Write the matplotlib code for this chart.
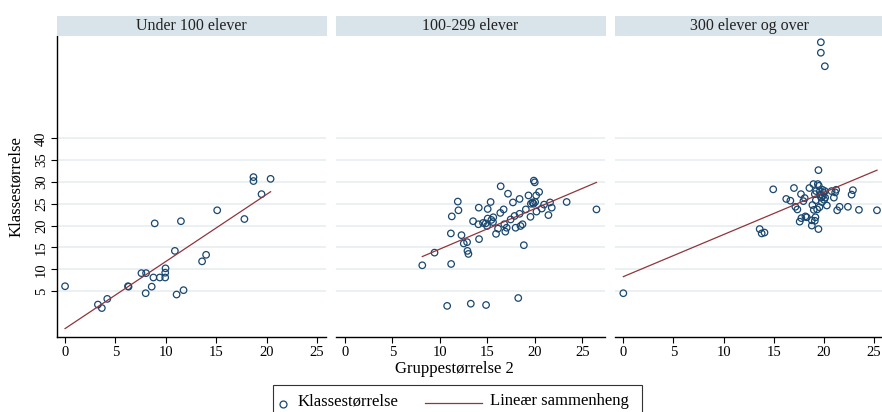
import numpy as np
import matplotlib.pyplot as plt
from matplotlib.lines import Line2D

plt.rcParams['font.family'] = ['Liberation Serif', 'DejaVu Serif']

titles = ["Under 100 elever", "100-299 elever", "300 elever og over"]

# Under 100 elever
x_small = [0.0, 3.26, 3.65, 4.19, 6.25, 6.3, 7.58, 8.04, 8.0, 8.6, 8.77, 8.9, 9.4,
           9.94, 9.94, 9.97, 10.9, 11.07, 11.5, 11.76, 13.6, 14.0, 15.1, 17.8,
           18.7, 18.7, 19.5, 20.4]
y_small = [6.1, 1.9, 1.1, 3.2, 6.1, 6.0, 9.1, 9.1, 4.5, 6.0, 8.1, 20.5, 8.1,
           8.1, 9.2, 10.2, 14.2, 4.2, 21.0, 5.2, 11.8, 13.3, 23.5, 21.5,
           31.1, 30.2, 27.2, 30.7]

# 100-299 elever
x_mid = [8.15, 9.44, 10.77, 11.19, 11.16, 11.26, 11.96, 11.89, 12.28, 12.52, 12.87,
         12.91, 13.01, 13.26, 13.5, 14.1, 14.06, 14.13, 14.55, 14.87, 14.83, 14.97,
         15.04, 15.04, 15.35, 15.43, 15.63, 15.6, 15.92, 16.13, 16.37, 16.41, 16.72,
         16.79, 16.9, 17.04, 17.18, 17.46, 17.7, 17.87, 17.98, 18.4, 18.4, 18.5,
         18.26, 18.71, 18.85, 19.06, 19.34, 19.55, 19.59, 19.76, 19.9, 20.0, 19.87,
         20.04, 20.15, 20.18, 20.46, 20.74, 20.98, 21.44, 21.61, 21.79, 23.36, 26.5]
y_mid = [10.9, 13.8, 1.6, 11.2, 18.2, 22.1, 23.5, 25.5, 17.8, 15.9, 16.2,
         14.2, 13.5, 2.1, 21.0, 24.1, 20.3, 16.9, 20.6, 1.8, 20.5, 19.9,
         21.6, 23.8, 25.4, 21.3, 21.9, 20.8, 18.1, 19.3, 22.9, 29.0, 23.7,
         20.3, 18.6, 19.5, 27.3, 21.4, 25.3, 22.2, 19.5, 26.1, 22.7, 19.9,
         3.4, 20.3, 15.5, 23.7, 26.9, 22.0, 25.0, 25.3, 30.3, 29.9, 25.0,
         25.4, 26.9, 23.2, 27.7, 23.9, 24.8, 22.4, 25.3, 24.1, 25.4, 23.7]

# 300 elever og over
x_large = [0.0, 19.7, 19.7, 20.1, 13.6, 13.8, 14.08, 14.95, 16.25, 16.66, 17.02,
           17.16, 17.36, 17.72, 17.59, 17.76, 17.96, 18.09, 18.16, 18.29, 18.56,
           18.8, 18.8, 18.86, 18.96, 19.0, 19.1, 19.16, 19.1, 19.2, 19.23, 19.33,
           19.4, 19.46, 19.46, 19.5, 19.56, 19.6, 19.66, 19.73, 19.8, 19.86, 19.9,
           19.96, 20.03, 20.1, 20.13, 20.3, 20.77, 21.0, 21.13, 21.23, 21.33,
           21.57, 22.4, 22.77, 22.9, 23.5, 25.3]
y_large = [4.5, 62.0, 59.6, 56.5, 19.2, 18.2, 18.4, 28.3, 26.1, 25.7, 28.6,
           24.3, 23.7, 27.2, 20.9, 21.7, 25.6, 26.3, 22.1, 21.9, 28.6,
           20.0, 21.2, 24.7, 29.5, 23.6, 21.1, 21.9, 27.2, 25.8, 27.9, 23.7,
           29.5, 32.7, 19.2, 29.1, 24.2, 27.8, 27.1, 26.4, 25.4, 28.2, 26.8,
           27.5, 25.9, 27.9, 26.4, 24.6, 27.9, 26.4, 27.6, 28.2, 23.5,
           24.3, 24.3, 27.1, 28.1, 23.6, 23.5]

# lineær sammenheng (stigning, konstant) lest av figuren
fits = [(1.537, -3.6), (0.926, 5.35), (0.964, 8.3)]

xs = [x_small, x_mid, x_large]
ys = [y_small, y_mid, y_large]
xlims = [(-0.8, 25.9), (-0.94, 27.4), (-0.83, 26.0)]

navy = '#1a476f'
maroon = '#90353b'
strip_c = '#d9e4ea'
grid_c = '#e6eef0'

fig = plt.figure(figsize=(8.82, 4.12), dpi=100)
lefts = [57, 336, 615]
width = 269
bottom, top = 337.3, 35.7
W, H = 882, 412

def fx(px):
    return px / W

def fy(py):
    return 1 - py / H

for i in range(3):
    ax = fig.add_axes([fx(lefts[i]), fy(bottom), width / W, (bottom - top) / H])
    ax.set_xlim(*xlims[i])
    ax.set_ylim(-5.6, 63.5)
    ax.set_yticks(np.arange(5, 45, 5))
    ax.set_xticks(np.arange(0, 30, 5))
    ax.grid(axis='y', color=grid_c, lw=1.1, zorder=0)
    for s in ['top', 'right']:
        ax.spines[s].set_visible(False)
    ax.spines['bottom'].set_linewidth(1.0)
    ax.tick_params(axis='x', length=4.5, width=0.8, labelsize=10.5, pad=1.5)
    if i == 0:
        ax.spines['left'].set_linewidth(1.0)
        ax.tick_params(axis='y', length=4.5, width=0.8, labelsize=10.5, pad=2,
                       labelrotation=90)
        for lab in ax.get_yticklabels():
            lab.set_va('center')
        ax.set_ylabel("Klassestørrelse", fontsize=12, labelpad=8)
    else:
        ax.spines['left'].set_visible(False)
        ax.tick_params(axis='y', length=0, labelleft=False)

    x = np.array(xs[i])
    y = np.array(ys[i])
    ax.scatter(x, y, s=22, facecolors='none', edgecolors=navy, linewidths=0.9,
               zorder=3, clip_on=False)
    b, a = fits[i]
    xx = np.array([x.min(), x.max()])
    ax.plot(xx, a + b * xx, color=maroon, lw=0.9, zorder=4)

    # strip title
    fig.patches.append(plt.Rectangle((fx(lefts[i] - 0.5), fy(top)),
                                     (width + 1) / W, 19.7 / H,
                                     transform=fig.transFigure,
                                     facecolor=strip_c, edgecolor='none'))
    fig.text(fx(lefts[i] + width / 2), fy(top - 10), titles[i],
             ha='center', va='center', fontsize=11.5, color='#222222')

fig.text(fx(454), fy(369), "Gruppestørrelse 2", ha='center', va='center',
         fontsize=12)

# legend box
fig.patches.append(plt.Rectangle((fx(273), fy(413)), (642 - 273) / W, 28 / H,
                                 transform=fig.transFigure, facecolor='white',
                                 edgecolor='#333333', lw=0.8, clip_on=False))
fig.add_artist(Line2D([fx(283)], [fy(404)], marker='o', ls='none', mfc='none',
                      mec=navy, mew=0.9, ms=5, transform=fig.transFigure))
fig.text(fx(298), fy(401), "Klassestørrelse", ha='left', va='center', fontsize=12)
fig.add_artist(Line2D([fx(425), fx(482)], [fy(403), fy(403)], color=maroon, lw=0.9,
                      transform=fig.transFigure))
fig.text(fx(490), fy(401), "Lineær sammenheng", ha='left', va='center', fontsize=12)

fig.savefig('out.png', dpi=100)
